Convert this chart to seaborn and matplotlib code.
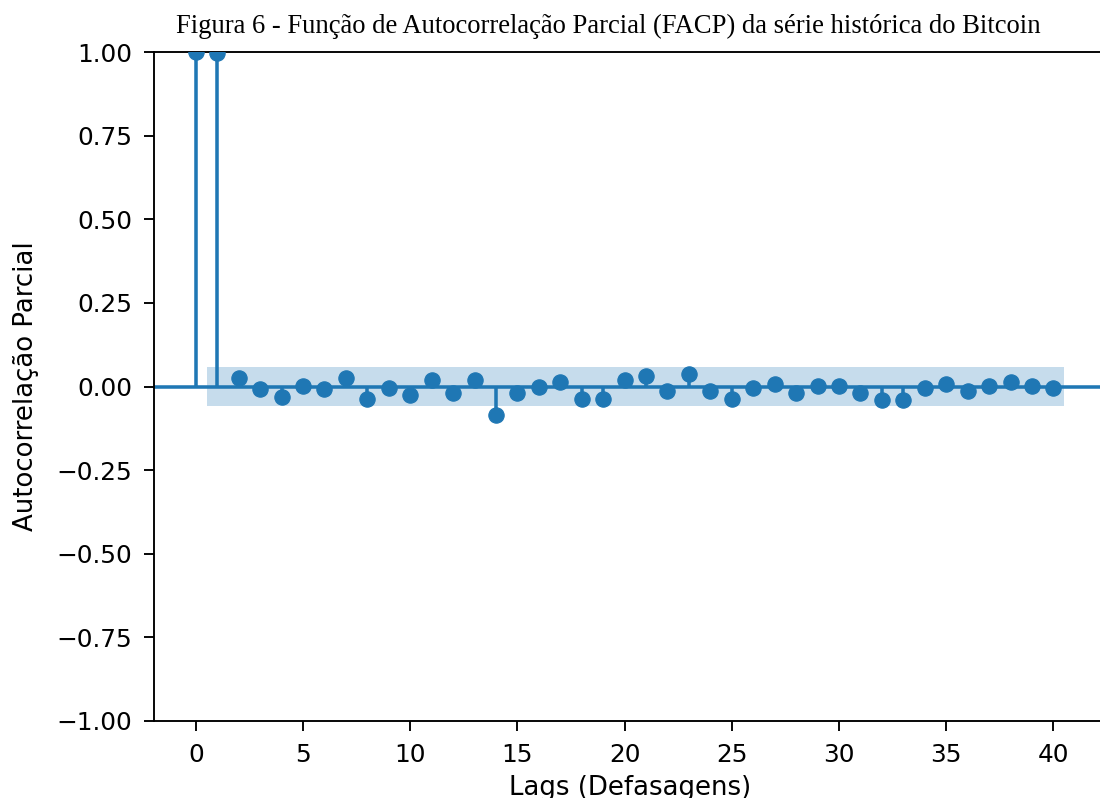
import numpy as np
import pandas as pd
import matplotlib
matplotlib.use("Agg")
import matplotlib.pyplot as plt
import seaborn as sns

# partial autocorrelation values (lags 0..40)
lags = list(range(41))
pacf_vals = [1.000, 0.998, 0.025, -0.008, -0.030, 0.002, -0.008, 0.025, -0.036,
             -0.003, -0.025, 0.019, -0.020, 0.019, -0.085, -0.020, 0.000, 0.012,
             -0.036, -0.036, 0.019, 0.031, -0.012, 0.037, -0.012, -0.036, -0.003,
             0.007, -0.020, 0.002, 0.002, -0.020, -0.041, -0.041, -0.003, 0.007,
             -0.012, 0.002, 0.013, 0.002, -0.003]
conf_half = 0.058
band_lags = [0.5, 40.5]

title = "Figura 6 - Função de Autocorrelação Parcial (FACP) da série histórica do Bitcoin"
xlabel = "Lags (Defasagens)"
ylabel = "Autocorrelação Parcial"
yticks = [-1.0, -0.75, -0.5, -0.25, 0.0, 0.25, 0.5, 0.75, 1.0]
xticks = [0, 5, 10, 15, 20, 25, 30, 35, 40]

df = pd.DataFrame({"lag": lags, "pacf": pacf_vals})

sns.set_style("ticks", {"axes.edgecolor": "black", "xtick.color": "black",
                        "ytick.color": "black", "text.color": "black",
                        "axes.labelcolor": "black"})
plt.rcParams["font.family"] = "sans-serif"
plt.rcParams["font.sans-serif"] = ["DejaVu Sans"]

blue = "#1f77b4"
dpi = 170
fig = plt.figure(figsize=(1100 / dpi, 798 / dpi), dpi=dpi)
ax = fig.add_axes([154 / 1100, 77 / 798, (1107 - 154) / 1100, (721 - 52) / 798])

ax.axhline(0, color=blue, lw=1.5, zorder=1)
ax.fill_between(band_lags, [-conf_half] * 2, [conf_half] * 2,
                color=blue, alpha=0.25, lw=0, zorder=0)
ax.vlines(df["lag"], 0, df["pacf"], color=blue, lw=1.5, zorder=2)
sns.scatterplot(data=df, x="lag", y="pacf", ax=ax, color=blue, s=42,
                edgecolor=blue, linewidth=0.5, zorder=3, clip_on=True)

ax.set_xlim(-1.95, 42.5)
ax.set_ylim(-1.0, 1.0)
ax.set_yticks(yticks)
ax.set_yticklabels([f"{v:.2f}".replace("-", "\u2212") for v in yticks])
ax.set_xticks(xticks)
ax.set_xticklabels([str(v) for v in xticks])
ax.tick_params(labelsize=10.5, length=4.2, width=0.8, pad=5)
for s in ax.spines.values():
    s.set_linewidth(0.8)
ax.set_xlabel(xlabel, fontsize=11, labelpad=3.5)
ax.set_ylabel(ylabel, fontsize=11, labelpad=7.5)

fig.text(608 / 1100, 1 - 26 / 798, title, ha="center", va="center",
         family=["Liberation Serif", "DejaVu Serif"], fontsize=11.3)

fig.savefig("out.png", dpi=dpi)
